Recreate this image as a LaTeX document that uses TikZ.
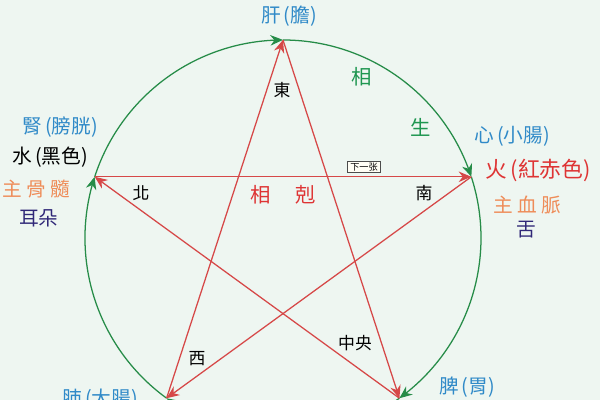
\documentclass[tikz,border=0pt]{standalone}
\usepackage{fontspec}
\setmainfont{Noto Sans CJK TC}
\usetikzlibrary{arrows.meta,bending}

\definecolor{bgmint}{RGB}{238,246,241}
\definecolor{kered}{RGB}{214,72,72}
\definecolor{shenggreen}{RGB}{38,140,72}
\definecolor{organblue}{RGB}{48,138,200}
\definecolor{firered}{RGB}{222,52,52}
\definecolor{mainorange}{RGB}{238,140,88}
\definecolor{sensenavy}{RGB}{48,40,120}
\definecolor{wordgreen}{RGB}{30,150,80}

\begin{document}
\begin{tikzpicture}[x=0.025cm, y=0.025cm,
    ke/.style={kered, line width=0.9pt, -{Stealth[length=9pt,width=7.5pt]}},
    sheng/.style={shenggreen, line width=0.9pt, -{Stealth[length=9pt,width=7.5pt,bend]}},
    organ/.style={text=organblue, inner sep=0pt, font=\fontsize{14}{16}\selectfont},
    info/.style={inner sep=0pt, font=\fontsize{14}{16}\selectfont},
    fang/.style={inner sep=0pt, font=\fontsize{12}{14}\selectfont},
    cyc/.style={inner sep=0pt, font=\fontsize{14.5}{16}\selectfont}]
    \fill[bgmint] (0,0) rectangle (600,400);
    \useasboundingbox (0,0) rectangle (600,400);
    \clip (0,0) rectangle (600,400);

    \coordinate (gan) at (283,360);
    \coordinate (xin) at (471.3,223.2);
    \coordinate (pi) at (399.4,1.8);
    \coordinate (fei) at (166.6,1.8);
    \coordinate (shen) at (94.7,223.2);

    \draw[sheng] (gan) arc[start angle=90, end angle=18, radius=198];
    \draw[sheng] (xin) arc[start angle=18, end angle=-54, radius=198];
    \draw[sheng] (pi) arc[start angle=-54, end angle=-126, radius=198];
    \draw[sheng] (fei) arc[start angle=-126, end angle=-198, radius=198];
    \draw[sheng] (shen) arc[start angle=162, end angle=90, radius=198];

    \draw[ke] (gan) -- (pi);
    \draw[ke] (pi) -- (shen);
    \draw[ke] (shen) -- (xin);
    \draw[ke] (xin) -- (fei);
    \draw[ke] (fei) -- (gan);

    \node[organ] (ganlabel) at (289,384) {肝\,(膽)};
    \node[organ] (xinlabel) at (512,264) {心\,(小腸)};
    \node[organ] (shenlabel) at (60,273) {腎\,(膀胱)};
    \node[organ] (pilabel) at (467,13) {脾\,(胃)};
    \node[organ, anchor=north] (feilabel) at (100,11) {肺\,(大腸)};

    \node[info, text=firered, font=\fontsize{15.5}{17}\selectfont] (huo) at (538,230) {火\,(紅赤色)};
    \node[info, text=mainorange] (xuemai) at (527,195) {主\hspace{3pt}血\hspace{3pt}脈};
    \node[info, text=sensenavy] (she) at (526,170) {舌};
    \node[info] (shui) at (50,243) {水\,(黑色)};
    \node[info, text=mainorange] (gusui) at (36,211) {主\hspace{3pt}骨\hspace{3pt}髓};
    \node[info, text=sensenavy] (erduo) at (39,182) {耳朵};

    \node[fang] (dong) at (282,310) {東};
    \node[fang] (bei) at (141,207) {北};
    \node[fang] (nan) at (424,207) {南};
    \node[fang] (xi) at (197,41) {西};
    \node[fang] (zhongyang) at (355,57) {中央};

    \node[cyc, text=wordgreen] (xiang) at (362,323) {相};
    \node[cyc, text=wordgreen] (sheng) at (421,273) {生};
    \node[cyc, text=firered] (xiangk) at (261,205) {相};
    \node[cyc, text=firered] (kewd) at (306,205) {剋};

    \node[draw=black!70, fill=yellow!4, line width=0.4pt, inner xsep=2pt, inner ysep=1pt,
        font=\fontsize{6.5}{7}\selectfont] (next) at (364,233) {下一张};
\end{tikzpicture}
\end{document}
